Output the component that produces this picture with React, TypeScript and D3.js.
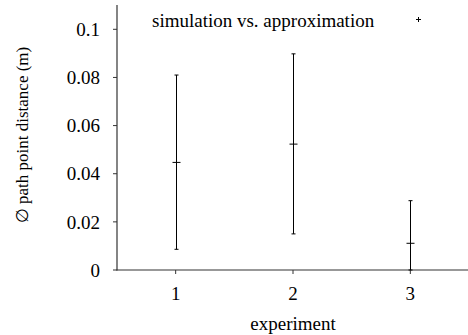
import * as d3 from "d3";
import React from "react";

const experiments = [1, 2, 3];
const means = [0.0447, 0.0523, 0.0111];
const lows = [0.0086, 0.015, 0.0];
const highs = [0.081, 0.0898, 0.0288];
const yTicks = [0, 0.02, 0.04, 0.06, 0.08, 0.1];
const yTickLabels = ["0", "0.02", "0.04", "0.06", "0.08", "0.1"];

const width = 468;
const height = 335;
const textStyle: React.CSSProperties = {
  fontFamily: '"Liberation Serif", "Times New Roman", Times, serif',
  fontSize: "19px",
};

export default function App() {
  const x = d3.scaleLinear().domain([0.5, 3.5]).range([117, 469]);
  const y = d3.scaleLinear().domain([0, 0.1]).range([270, 29.3]);
  const axisColor = "#333";

  return (
    <svg
      width={width}
      height={height}
      style={{ position: "absolute", left: 0, top: 0, background: "#fff" }}
    >
      {/* axes */}
      <line x1={117} y1={5} x2={117} y2={270.5} stroke={axisColor} strokeWidth={1.2} />
      <line x1={116.5} y1={270} x2={468} y2={270} stroke={axisColor} strokeWidth={1.2} />

      {yTicks.map((t, i) => (
        <g key={i}>
          <line x1={113} x2={117} y1={y(t)} y2={y(t)} stroke={axisColor} />
          <text x={100} y={y(t)} dy="0.35em" textAnchor="end" style={textStyle}>
            {yTickLabels[i]}
          </text>
        </g>
      ))}

      {experiments.map((e) => (
        <g key={e}>
          <line x1={x(e)} x2={x(e)} y1={270} y2={274} stroke={axisColor} />
          <text x={x(e)} y={293} dy="0.35em" textAnchor="middle" style={textStyle}>
            {e}
          </text>
        </g>
      ))}

      <text x={293} y={323} dy="0.35em" textAnchor="middle" style={textStyle}>
        experiment
      </text>
      <text
        transform={`translate(22,135) rotate(-90)`}
        dy="0.35em"
        textAnchor="middle"
        style={{ ...textStyle, fontSize: "17px" }}
      >
        ∅ path point distance (m)
      </text>

      {/* error bars */}
      {experiments.map((e, i) => {
        const cx = Math.round(x(e)) + 0.5;
        return (
          <g key={e} stroke="#000" strokeWidth={1}>
            <line x1={cx} x2={cx} y1={y(lows[i])} y2={y(highs[i])} />
            <line x1={cx - 2} x2={cx + 2} y1={y(highs[i])} y2={y(highs[i])} />
            <line x1={cx - 2} x2={cx + 2} y1={y(lows[i])} y2={y(lows[i])} />
            <line x1={cx - 4} x2={cx + 4} y1={y(means[i])} y2={y(means[i])} />
          </g>
        );
      })}

      {/* legend */}
      <text x={152} y={20} dy="0.35em" style={textStyle}>
        simulation vs. approximation
      </text>
      <g stroke="#000" strokeWidth={1}>
        <line x1={416} x2={421} y1={19.5} y2={19.5} />
        <line x1={418.5} x2={418.5} y1={17} y2={22} />
      </g>
    </svg>
  );
}
